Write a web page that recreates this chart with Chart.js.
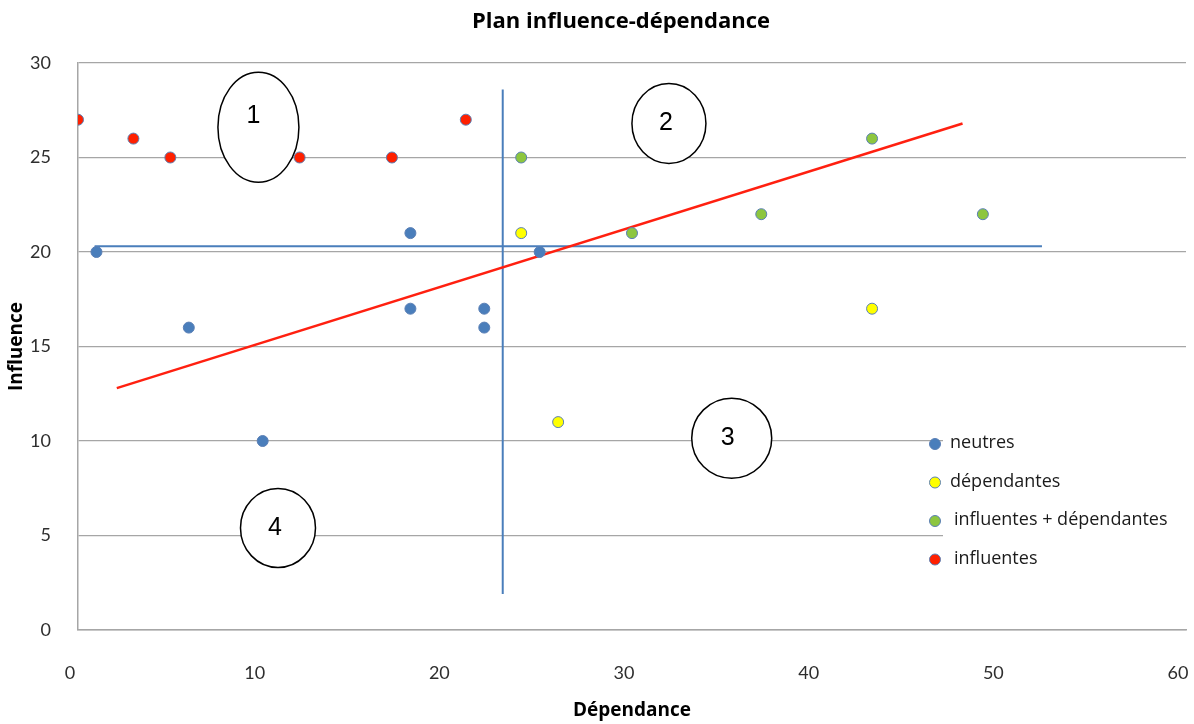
<!DOCTYPE html>
<html lang="fr">
<head>
<meta charset="utf-8">
<title>Plan influence-dépendance</title>
<script src="https://cdn.jsdelivr.net/npm/chart.js@4.4.1/dist/chart.umd.min.js"></script>
<style>
  html, body { margin: 0; padding: 0; background: #fff; }
  #wrap { width: 1194px; height: 724px; }
</style>
</head>
<body>
<div id="wrap"><canvas id="plan" width="1194" height="724"></canvas></div>
<script>
// Plan influence-dépendance — scatter of variables by dependence (x) and influence (y),
// with quadrant lines, a trend line and numbered quadrant bubbles.

const seriesLabels = ['neutres', 'dépendantes', 'influentes + dépendantes', 'influentes'];
const seriesColors = ['#4a7ebb', '#ffff00', '#8dc63f', '#ff2000'];

const neutresX = [1, 6, 10, 18, 18, 22, 22, 25];
const neutresY = [20, 16, 10, 21, 17, 17, 16, 20];

const dependantesX = [24, 43, 26];
const dependantesY = [21, 17, 11];

const infDepX = [24, 30, 37, 43, 49];
const infDepY = [25, 21, 22, 26, 22];

const influentesX = [0, 3, 5, 12, 17, 21];
const influentesY = [27, 26, 25, 25, 25, 27];

// quadrant lines and trend line
const hLineX = [0.9, 52.2];
const hLineY = [20.3, 20.3];
const vLineX = [23, 23];
const vLineY = [1.9, 28.6];
const trendX = [2.1, 47.9];
const trendY = [12.8, 26.8];

const xTicks = [0, 10, 20, 30, 40, 50, 60];
const yTicks = [0, 5, 10, 15, 20, 25, 30];

// numbered quadrant bubbles (centres in data units)
const bubbleLabels = ['1', '2', '3', '4'];
const bubbleX = [9.77, 32.0, 35.4, 10.83];
const bubbleY = [26.6, 26.8, 10.15, 5.4];

const TITLE = 'Plan influence-dépendance';
const FONT = '"Open Sans", Lato, sans-serif';
const TICK_FONT = 'Lato, "Open Sans", sans-serif';
const POINT_EDGE = '#5a7fb5';

const zip = (xs, ys) => xs.map((x, i) => ({ x, y: ys[i] }));

function pointSet(label, xs, ys, color) {
  return {
    type: 'scatter', label, data: zip(xs, ys),
    backgroundColor: color, borderColor: POINT_EDGE, borderWidth: 1,
    pointRadius: 5.5, pointHoverRadius: 5.5,
  };
}

function lineSet(label, xs, ys, color, width) {
  return {
    type: 'line', label, data: zip(xs, ys),
    borderColor: color, borderWidth: width, pointRadius: 0, fill: false,
    tension: 0,
  };
}

const bubbles = {
  id: 'bubbles',
  beforeDatasetsDraw(chart) {
    const { ctx, scales: { x, y } } = chart;
    const radii = [[40.5, 55], [37, 40], [40, 40], [37.5, 39.5]];
    const textShift = [[-5, -11], [-3, 0], [-4, 0], [-3, 0]];
    ctx.save();
    bubbleLabels.forEach((lab, i) => {
      const cx = x.getPixelForValue(bubbleX[i]);
      const cy = y.getPixelForValue(bubbleY[i]);
      ctx.beginPath();
      ctx.ellipse(cx, cy, radii[i][0], radii[i][1], 0, 0, Math.PI * 2);
      ctx.fillStyle = '#fff';
      ctx.fill();
      ctx.lineWidth = 1.5;
      ctx.strokeStyle = '#000';
      ctx.stroke();
      ctx.fillStyle = '#000';
      ctx.font = '25px "Liberation Sans", Arial, sans-serif';
      ctx.textAlign = 'center';
      ctx.textBaseline = 'middle';
      ctx.fillText(lab, cx + textShift[i][0], cy + textShift[i][1]);
    });
    ctx.restore();
  }
};

// legend sits inside the plot, bottom right, on a white patch over the grid
const insetLegend = {
  id: 'insetLegend',
  beforeDatasetsDraw(chart) {
    const { ctx, chartArea } = chart;
    const left = chartArea.right - 243;
    const top = chartArea.bottom - 205;
    ctx.save();
    ctx.fillStyle = '#fff';
    ctx.fillRect(left, top, 260, 150);
    ctx.font = '18px ' + FONT;
    ctx.textBaseline = 'middle';
    ctx.textAlign = 'left';
    seriesLabels.forEach((lab, i) => {
      const yy = top + 19 + i * 38.5;
      ctx.beginPath();
      ctx.arc(left - 8, yy, 5.5, 0, Math.PI * 2);
      ctx.fillStyle = seriesColors[i];
      ctx.fill();
      ctx.lineWidth = 1;
      ctx.strokeStyle = POINT_EDGE;
      ctx.stroke();
      ctx.fillStyle = '#1a1a1a';
      ctx.fillText(lab, left + 7 + (i >= 2 ? 4 : 0), yy - 1);
    });
    ctx.restore();
  }
};

// title is centred a little right of the canvas middle, as in the original
const plotTitle = {
  id: 'plotTitle',
  afterDraw(chart) {
    const { ctx, chartArea } = chart;
    ctx.save();
    ctx.font = 'bold 22px ' + FONT;
    ctx.fillStyle = '#000';
    ctx.textAlign = 'center';
    ctx.textBaseline = 'middle';
    ctx.fillText(TITLE, (chartArea.left + chartArea.right) / 2 - 11, 22);
    ctx.restore();
  }
};

new Chart(document.getElementById('plan'), {
  data: {
    datasets: [
      pointSet(seriesLabels[0], neutresX, neutresY, seriesColors[0]),
      pointSet(seriesLabels[1], dependantesX, dependantesY, seriesColors[1]),
      pointSet(seriesLabels[2], infDepX, infDepY, seriesColors[2]),
      pointSet(seriesLabels[3], influentesX, influentesY, seriesColors[3]),
      lineSet('tendance', trendX, trendY, '#ff2010', 2.5),
      lineSet('seuil influence', hLineX, hLineY, '#4a7ebb', 2),
      lineSet('seuil dépendance', vLineX, vLineY, '#4a7ebb', 2),
    ]
  },
  options: {
    responsive: false,
    animation: false,
    events: [],
    layout: { padding: { top: 63, right: 8, bottom: 0, left: 0 } },
    scales: {
      x: {
        type: 'linear', min: 0, max: 60,
        afterBuildTicks: s => { s.ticks = xTicks.map(v => ({ value: v })); },
        afterFit: s => { s.height = 94; s.paddingLeft = 0; s.paddingRight = 0; },
        grid: { display: false, drawTicks: false },
        border: { display: true, color: '#a6a6a6', width: 1.5 },
        ticks: { font: { family: TICK_FONT, size: 18 }, color: '#2e2e2e', padding: 32, labelOffset: -8, maxRotation: 0 },
        title: { display: true, text: 'Dépendance', font: { family: FONT, size: 19, weight: 'bold' }, color: '#000', padding: { top: 0, bottom: 2 } },
      },
      y: {
        type: 'linear', min: 0, max: 30,
        afterBuildTicks: s => { s.ticks = yTicks.map(v => ({ value: v })); },
        afterFit: s => { s.width = 78; s.paddingTop = 0; s.paddingBottom = 0; },
        grid: { color: '#a6a6a6', lineWidth: 1.2, drawTicks: false },
        border: { display: true, color: '#a6a6a6', width: 1.5 },
        ticks: { font: { family: TICK_FONT, size: 18 }, color: '#2e2e2e', padding: 27 },
        title: { display: true, text: 'Influence', font: { family: FONT, size: 19, weight: 'bold' }, color: '#000', padding: { top: 5, bottom: 0 } },
      },
    },
    plugins: {
      legend: { display: false },
      tooltip: { enabled: false },
      title: { display: false },
    },
  },
  plugins: [bubbles, insetLegend, plotTitle],
});
</script>
</body>
</html>
